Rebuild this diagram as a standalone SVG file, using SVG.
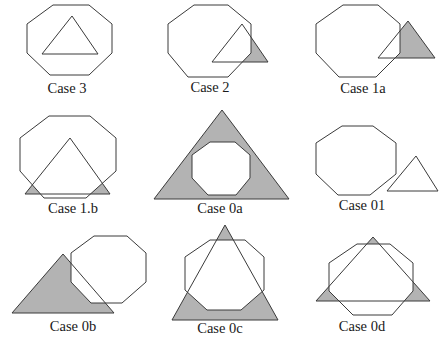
<svg xmlns="http://www.w3.org/2000/svg" width="439" height="341" viewBox="0 0 439 341">
<style>
.bg{fill:#fff}
.oct{fill:#fff;stroke:#3a3a3a;stroke-width:1}
.octs{fill:none;stroke:#3a3a3a;stroke-width:1}
.tri{fill:#b3b3b3;stroke:none}
.tris{fill:none;stroke:#3a3a3a;stroke-width:1}
.lbl{font-family:"Liberation Serif","Times New Roman",serif;font-size:14.5px;fill:#1a1a1a;text-anchor:middle}
</style>
<rect class="bg" x="0" y="0" width="439" height="341"/>

<g id="case3">
<polygon class="oct" points="53,5 89,5 112,24 112,53 89,75 50,75 27,53 27,24"/>
<polygon class="tris" points="72,16 42,54 98,54"/>
<text class="lbl" x="67" y="93">Case 3</text>
</g>

<g id="case2">
<polygon class="tri" points="242,24 212,62 268,62"/>
<polygon class="oct" points="194,5 228,5 251,24 251,53 228,77 188,77 168,53 168,24"/>
<polygon class="tris" points="242,24 212,62 268,62"/>
<text class="lbl" x="210" y="92">Case 2</text>
</g>

<g id="case1a">
<polygon class="tri" points="408,21 378,58 435,58"/>
<polygon class="oct" points="343,5 378,5 400,24 400,53 376,77 339,77 316,53 316,24"/>
<polygon class="tris" points="408,21 378,58 435,58"/>
<text class="lbl" x="363" y="93">Case 1a</text>
</g>

<g id="case1b">
<polygon class="tri" points="70,138 25,194 110,194"/>
<polygon class="oct" points="49,116 90,116 116,138 116,171 86,198 44,198 20,171 20,138"/>
<polygon class="tris" points="70,138 25,194 110,194"/>
<text class="lbl" x="73" y="213">Case 1.b</text>
</g>

<g id="case0a">
<polygon class="tri" points="222,110 154,199 289,199"/>
<polygon class="oct" points="210,142 235,142 250,155 250,178 236,195 208,195 192,178 192,155"/>
<polygon class="tris" points="222,110 154,199 289,199"/>
<text class="lbl" x="220" y="213">Case 0a</text>
</g>

<g id="case01">
<polygon class="oct" points="342,126 373,126 396,143 396,174 370,195 338,195 316,174 316,143"/>
<polygon class="tris" points="416,156 387,191 438,191"/>
<text class="lbl" x="362" y="210">Case 01</text>
</g>

<g id="case0b">
<polygon class="tri" points="63,254 12,313 114,313"/>
<polygon class="oct" points="94,236 127,236 146,253 146,282 122,303 91,303 71,282 71,253"/>
<polygon class="tris" points="63,254 12,313 114,313"/>
<text class="lbl" x="73" y="331">Case 0b</text>
</g>

<g id="case0c">
<polygon class="tri" points="225,225 172,320 278,320"/>
<polygon class="oct" points="210,240 245,240 264,257 264,290 241,310 207,310 185,290 185,257"/>
<polygon class="tris" points="225,225 172,320 278,320"/>
<text class="lbl" x="220" y="333">Case 0c</text>
</g>

<g id="case0d">
<polygon class="tri" points="373,237 316,301 430,301"/>
<polygon class="oct" points="357,244 390,244 413,263 413,291 392,315 353,315 329,291 329,263"/>
<polygon class="tris" points="373,237 316,301 430,301"/>
<text class="lbl" x="362" y="331">Case 0d</text>
</g>
</svg>
